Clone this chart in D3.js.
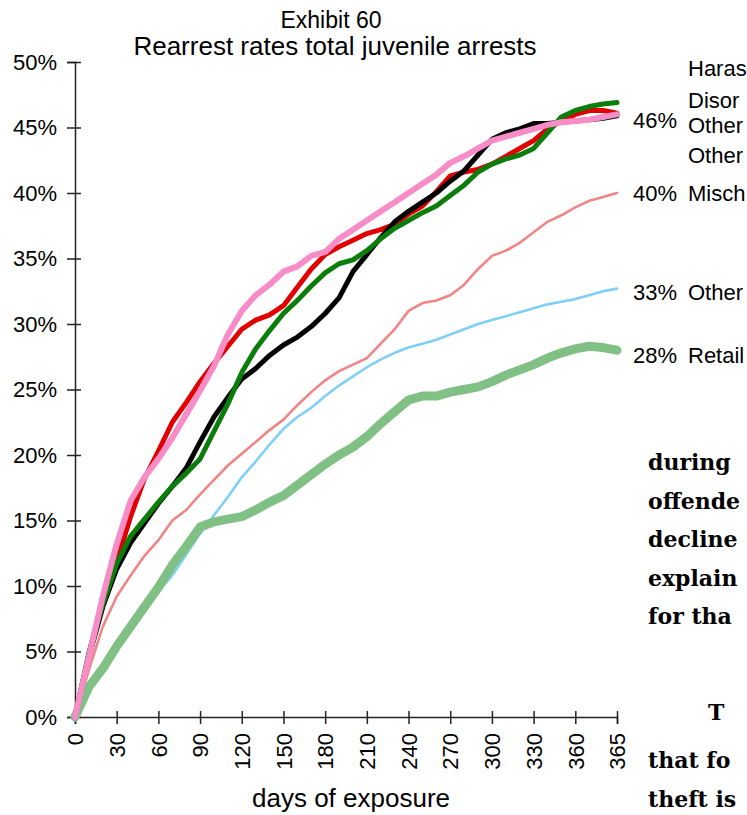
<!DOCTYPE html>
<html><head><meta charset="utf-8">
<script src="https://cdn.jsdelivr.net/npm/d3@7"></script>
<style>
html,body{margin:0;padding:0;background:#fff;}
svg{display:block;font-family:"Liberation Sans",Arial,sans-serif;}
</style></head>
<body>
<svg id="c" width="747" height="815"></svg>
<script>
// ---- data ----
const tickLabels = ["0","30","60","90","120","150","180","210","240","270","300","330","360","365"];
// sample positions: 3 samples per tick interval (in tick units)
const positions = d3.range(40).map(i => i / 3);
const pinkSeries   = [0,4.6,9.2,13.2,16.5,18.3,19.7,21.3,23.1,24.9,26.8,29.2,31.0,32.2,33.0,34.0,34.4,35.2,35.5,36.5,37.2,37.9,38.6,39.3,40.0,40.7,41.4,42.3,42.8,43.4,44.0,44.3,44.6,44.9,45.2,45.4,45.5,45.6,45.8,46.0];
const redSeries    = [0,4.8,9.0,11.8,15.3,18.2,20.3,22.5,24.0,25.6,27.0,28.3,29.6,30.3,30.7,31.4,32.8,34.2,35.3,35.9,36.4,36.9,37.2,37.6,38.4,39.0,40.1,41.3,41.6,41.8,42.2,42.8,43.4,44.0,44.9,45.5,46.0,46.3,46.3,46.1];
const blackSeries  = [0,4.6,8.4,11.3,13.3,14.8,16.3,17.6,19.0,21.0,22.9,24.4,25.8,26.6,27.6,28.4,29.0,29.8,30.8,32.0,34.0,35.3,36.6,37.8,38.6,39.3,40.0,40.9,41.7,42.9,44.1,44.6,44.9,45.3,45.3,45.4,45.5,45.6,45.7,45.9];
const greenSeries  = [0,4.9,8.6,11.7,13.8,15.1,16.4,17.6,18.6,19.7,21.8,23.9,26.3,28.1,29.5,30.8,31.8,32.9,33.9,34.6,34.9,35.6,36.5,37.3,37.9,38.5,39.0,39.8,40.6,41.6,42.2,42.6,42.9,43.4,44.6,45.8,46.3,46.6,46.8,46.9];
const salmonSeries = [0,3.6,6.9,9.2,10.8,12.3,13.5,15.0,15.8,17.0,18.1,19.2,20.1,21.0,21.9,22.7,23.8,24.8,25.7,26.4,26.9,27.4,28.5,29.6,31.0,31.6,31.8,32.2,33.0,34.2,35.2,35.6,36.2,37.0,37.8,38.3,38.9,39.4,39.7,40.0];
const blueSeries   = [0,2.3,3.8,5.4,6.8,8.1,9.6,10.8,12.4,14.0,15.4,16.8,18.3,19.5,20.8,22.0,22.9,23.6,24.5,25.3,26.0,26.7,27.3,27.8,28.2,28.5,28.8,29.2,29.6,30.0,30.3,30.6,30.9,31.2,31.5,31.7,31.9,32.2,32.5,32.7];
const lgreenSeries = [0,2.3,3.7,5.4,6.9,8.4,9.9,11.6,13.0,14.5,14.9,15.1,15.3,15.8,16.4,16.9,17.7,18.5,19.3,20.0,20.6,21.4,22.4,23.3,24.2,24.5,24.5,24.8,25.0,25.2,25.6,26.1,26.5,26.9,27.4,27.8,28.1,28.3,28.2,28.0];
const endPercents = ["46%","40%","33%","28%"];
const endNames = [["Haras","Disor","Other","Other"],["Misch"],["Other"],["Retail"]];
const bodyLines = ["during","offende","decline","explain","for tha"];
const bodyLines2 = ["that fo","theft is"];

// ---- layout ----
const svg = d3.select("#c");
const x = d3.scaleLinear().domain([0, 13]).range([75, 617]);
const y = d3.scaleLinear().domain([0, 50]).range([717, 62]);

// title
svg.append("text").attr("x", 331).attr("y", 28).attr("text-anchor","middle")
  .attr("font-size", 23).text("Exhibit 60");
svg.append("text").attr("x", 335).attr("y", 55).attr("text-anchor","middle")
  .attr("font-size", 26).text("Rearrest rates total juvenile arrests");

// y axis
const yAxis = d3.axisLeft(y).tickValues(d3.range(0, 51, 5)).tickFormat(d => d + "%").tickSize(8).tickPadding(10);
const gy = svg.append("g").attr("transform","translate(75,0)").call(yAxis);
gy.select(".domain").attr("stroke","#222").attr("stroke-width",1.5);
gy.selectAll(".tick line").attr("x1", 6).attr("stroke","#222").attr("stroke-width",1.5);
gy.selectAll(".tick text").attr("font-size", 22).attr("font-family","Liberation Sans, Arial, sans-serif").attr("fill","#000");

// x axis
const xAxis = d3.axisBottom(x).tickValues(d3.range(0, 14)).tickFormat(i => tickLabels[i]).tickSize(7);
const gx = svg.append("g").attr("transform","translate(0,717)").call(xAxis);
gx.select(".domain").attr("stroke","#222").attr("stroke-width",1.5);
gx.selectAll(".tick line").attr("y1", -6).attr("stroke","#222").attr("stroke-width",1.5);
gx.selectAll(".tick text").attr("font-size", 22).attr("font-family","Liberation Sans, Arial, sans-serif").attr("fill","#000")
  .attr("text-anchor","end").attr("transform","rotate(-90)").attr("x", -16).attr("y", 0).attr("dy","0.35em");

svg.append("text").attr("x", 351).attr("y", 807).attr("text-anchor","middle")
  .attr("font-size", 26).text("days of exposure");

// lines
const series = [
  {v: blueSeries,   c: "#7fcff6", w: 2.6},
  {v: salmonSeries, c: "#f08585", w: 2.6},
  {v: lgreenSeries, c: "#80c084", w: 9},
  {v: redSeries,    c: "#e00000", w: 5},
  {v: blackSeries,  c: "#000000", w: 5},
  {v: greenSeries,  c: "#0a7d0a", w: 5},
  {v: pinkSeries,   c: "#f78cc6", w: 6}
];
const line = d3.line().x((d,i) => x(positions[i])).y(d => y(d));
svg.append("g").selectAll("path").data(series).join("path")
  .attr("d", s => line(s.v)).attr("fill","none").attr("stroke", s => s.c)
  .attr("stroke-width", s => s.w).attr("stroke-linejoin","round").attr("stroke-linecap","round");

// end labels
const pctY = [120, 193, 292, 355];
const nameOffsets = [[-52,-20,5,35],[0],[0],[0]];
endPercents.forEach((p, i) => {
  svg.append("text").attr("x", 633).attr("y", pctY[i]).attr("dy","0.35em").attr("font-size", 22).text(p);
  endNames[i].forEach((n, j) => {
    svg.append("text").attr("x", 688).attr("y", pctY[i] + nameOffsets[i][j]).attr("dy","0.35em").attr("font-size", 22).text(n);
  });
});

// body text (page text next to the chart)
const serif = "DejaVu Serif, serif";
bodyLines.forEach((t, i) => {
  svg.append("text").attr("x", 648).attr("y", 470 + i * 38.5).attr("font-family", serif)
    .attr("font-weight","bold").attr("font-size", 22).text(t);
});
svg.append("text").attr("x", 708).attr("y", 720).attr("font-family", serif)
  .attr("font-weight","bold").attr("font-size", 22).text("T");
bodyLines2.forEach((t, i) => {
  svg.append("text").attr("x", 648).attr("y", 768 + i * 38.5).attr("font-family", serif)
    .attr("font-weight","bold").attr("font-size", 22).text(t);
});
</script>
</body></html>
